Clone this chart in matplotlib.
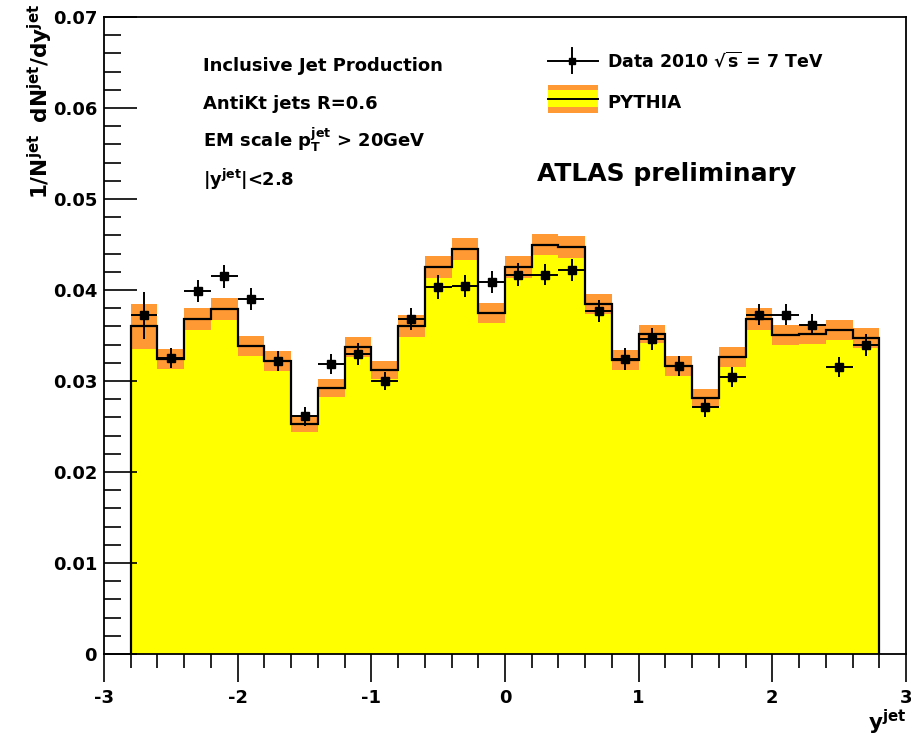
import numpy as np
import matplotlib
matplotlib.use("Agg")
import matplotlib.pyplot as plt
from matplotlib.patches import Rectangle
from matplotlib.lines import Line2D
from matplotlib.ticker import MultipleLocator, FuncFormatter

plt.rcParams['font.family'] = ['DejaVu Sans']
plt.rcParams['font.weight'] = 'bold'
plt.rcParams['mathtext.fontset'] = 'dejavusans'
plt.rcParams['mathtext.default'] = 'bf'
plt.rcParams['axes.unicode_minus'] = False

# 直方图的分箱 (y^jet, 宽度 0.2)
bin_edges = np.round(np.arange(-2.8, 2.81, 0.2), 2)

# PYTHIA 预测值及其不确定度
pythia = [0.0360, 0.03245, 0.0368, 0.0379, 0.0338, 0.0322, 0.0253, 0.0292,
          0.0337, 0.0312, 0.0360, 0.0425, 0.0445, 0.0375, 0.0425, 0.0450,
          0.0447, 0.0385, 0.0323, 0.0352, 0.0316, 0.0281, 0.0326, 0.0368,
          0.0351, 0.0352, 0.0356, 0.0347]
pythia_err = [0.0025, 0.0011, 0.0012, 0.0012, 0.0011, 0.0011, 0.0009, 0.0010,
              0.0011, 0.0010, 0.0012, 0.0012, 0.0012, 0.0011, 0.0012, 0.0012,
              0.0012, 0.0011, 0.0011, 0.0010, 0.0011, 0.0010, 0.0011, 0.0012,
              0.0011, 0.0011, 0.0011, 0.0011]

# 2010 年数据
data = [0.0372, 0.0325, 0.0399, 0.0415, 0.0390, 0.0322, 0.0261, 0.0319,
        0.0330, 0.0300, 0.0368, 0.0403, 0.0404, 0.0409, 0.0417, 0.0417,
        0.0422, 0.0377, 0.0324, 0.0346, 0.0316, 0.0271, 0.0304, 0.0373,
        0.0373, 0.0362, 0.0315, 0.0340]
data_err = [0.0026, 0.0011, 0.0012, 0.0013, 0.0012, 0.0011, 0.0010, 0.0011,
            0.0012, 0.0010, 0.0012, 0.0013, 0.0012, 0.0012, 0.0013, 0.0012,
            0.0012, 0.0012, 0.0012, 0.0012, 0.0011, 0.0011, 0.0011, 0.0012,
            0.0012, 0.0012, 0.0011, 0.0012]

YELLOW = '#ffff00'
ORANGE = '#ff9933'

W, H = 912, 736
fig = plt.figure(figsize=(W / 100, H / 100), dpi=100)
ax = fig.add_axes([104 / W, 1 - 654 / H, (906 - 104) / W, (654 - 17) / H])


def fx(px):
    return px / W


def fy(py):
    return 1 - py / H


pythia = np.array(pythia)
pythia_err = np.array(pythia_err)
lower = pythia - pythia_err
upper = pythia + pythia_err
centers = 0.5 * (bin_edges[:-1] + bin_edges[1:])

# 黄色填充 + 橙色误差带 + 黑色直方图线
ax.stairs(lower, bin_edges, baseline=0, fill=True, color=YELLOW, lw=0, zorder=1)
ax.stairs(upper, bin_edges, baseline=lower, fill=True, color=ORANGE, lw=0, zorder=2)
ax.stairs(pythia, bin_edges, baseline=0, fill=False, color='black', lw=1.6, zorder=3)

ax.errorbar(centers, data, xerr=0.1, yerr=data_err, fmt='s', color='black',
            ms=6, elinewidth=1.4, capsize=0, zorder=4)

ax.set_xlim(-3, 3)
ax.set_ylim(0, 0.07)
ax.xaxis.set_major_locator(MultipleLocator(1))
ax.xaxis.set_minor_locator(MultipleLocator(0.2))
ax.yaxis.set_major_locator(MultipleLocator(0.01))
ax.yaxis.set_minor_locator(MultipleLocator(0.002))
ax.yaxis.set_major_formatter(FuncFormatter(lambda v, p: '0' if abs(v) < 1e-9 else f'{v:.2f}'))
ax.xaxis.set_major_formatter(FuncFormatter(lambda v, p: f'{v:.0f}'))

ax.tick_params(axis='y', which='major', direction='in', length=24, width=1.2,
               labelsize=13, pad=5)
ax.tick_params(axis='y', which='minor', direction='in', length=12, width=1.2)
ax.tick_params(axis='x', which='major', direction='out', length=20, width=1.2,
               labelsize=13, pad=5)
ax.tick_params(axis='x', which='minor', direction='out', length=10, width=1.2)
for lab in ax.get_xticklabels() + ax.get_yticklabels():
    lab.set_fontweight('bold')
for sp in ax.spines.values():
    sp.set_linewidth(1.3)

# 轴标题
fig.text(fx(40), fy(4), r'$1/N^{jet}\;\;dN^{jet}/dy^{jet}$', rotation=90,
         ha='center', va='top', fontsize=15.5)
fig.text(fx(906), fy(730), r'$y^{jet}$', ha='right', va='baseline', fontsize=15.5)

# 说明文字
fig.text(fx(203), fy(71), 'Inclusive Jet Production', fontsize=13, va='baseline')
fig.text(fx(203), fy(109), 'AntiKt jets R=0.6', fontsize=13, va='baseline')
fig.text(fx(203), fy(147), r'EM scale $p_T^{jet}$ > 20GeV', fontsize=13, va='baseline')
fig.text(fx(203), fy(186), r'$|y^{jet}|$<2.8', fontsize=13, va='baseline')
fig.text(fx(537), fy(181), 'ATLAS preliminary', fontsize=18, va='baseline')

# 图例 (手工绘制)
fig.add_artist(Line2D([fx(548), fx(598)], [fy(61), fy(61)], color='black', lw=1.4))
fig.add_artist(Line2D([fx(572), fx(572)], [fy(48), fy(73)], color='black', lw=1.4))
fig.add_artist(Line2D([fx(572)], [fy(61)], marker='s', ms=5, color='black'))
fig.text(fx(607), fy(67), r'Data 2010 $\sqrt{s}$ = 7 TeV', fontsize=12.5, va='baseline')

fig.add_artist(Rectangle((fx(548), fy(113)), fx(598) - fx(548), fy(85) - fy(113),
                         transform=fig.transFigure, color=ORANGE, lw=0))
fig.add_artist(Rectangle((fx(548), fy(107)), fx(598) - fx(548), fy(90) - fy(107),
                         transform=fig.transFigure, color=YELLOW, lw=0))
fig.add_artist(Line2D([fx(548), fx(598)], [fy(99), fy(99)], color='black', lw=1.4))
fig.text(fx(607), fy(108), 'PYTHIA', fontsize=13, va='baseline')

fig.savefig('out.png', dpi=100)
